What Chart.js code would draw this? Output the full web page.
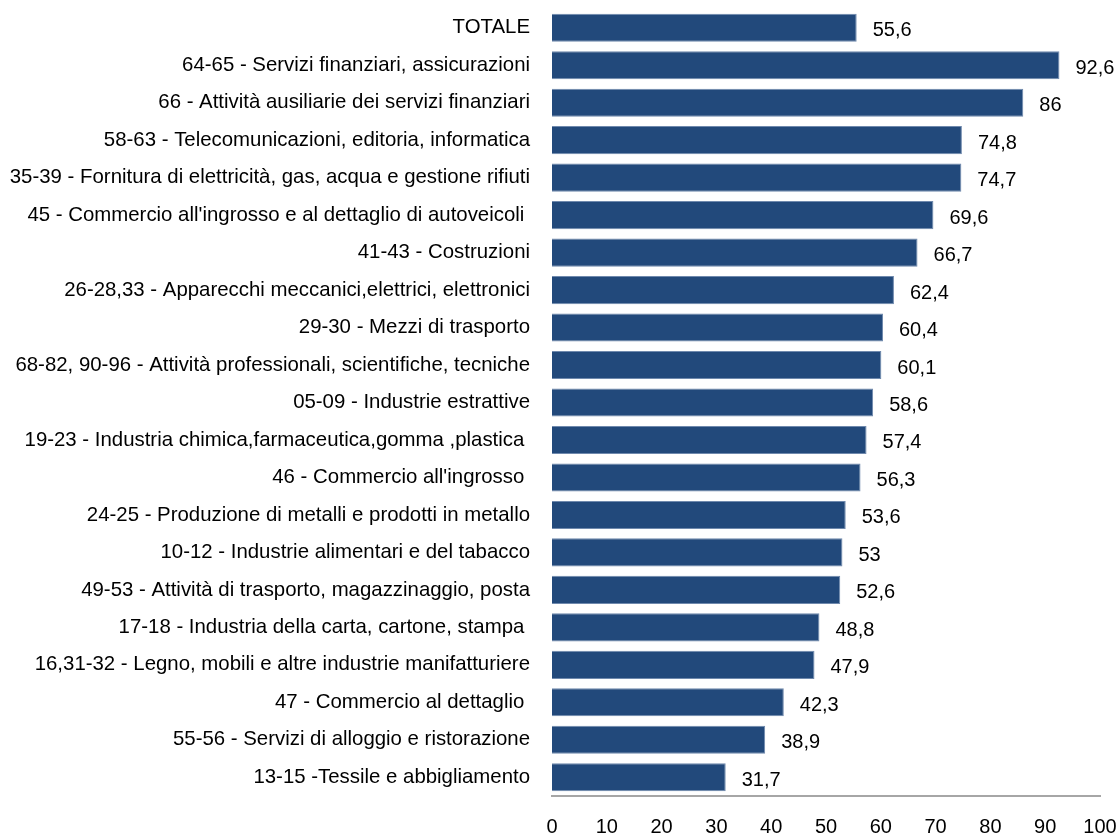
<!DOCTYPE html>
<html>
<head>
<meta charset="utf-8">
<script src="https://cdn.jsdelivr.net/npm/chart.js@4"></script>
<style>
  html, body { margin: 0; padding: 0; background: #ffffff; }
  #wrap { width: 1118px; height: 835px; position: relative; }
</style>
</head>
<body>
<div id="wrap"><canvas id="chart"></canvas></div>
<script>
// Sector categories (top to bottom) and their values
const categories = [
  "TOTALE",
  "64-65 - Servizi finanziari, assicurazioni",
  "66 - Attività ausiliarie dei servizi finanziari",
  "58-63 - Telecomunicazioni, editoria, informatica",
  "35-39 - Fornitura di elettricità, gas, acqua e gestione rifiuti",
  "45 - Commercio all'ingrosso e al dettaglio di autoveicoli ",
  "41-43 - Costruzioni",
  "26-28,33 - Apparecchi meccanici,elettrici, elettronici",
  "29-30 - Mezzi di trasporto",
  "68-82, 90-96 - Attività professionali, scientifiche, tecniche",
  "05-09 - Industrie estrattive",
  "19-23 - Industria chimica,farmaceutica,gomma ,plastica ",
  "46 - Commercio all'ingrosso ",
  "24-25 - Produzione di metalli e prodotti in metallo",
  "10-12 - Industrie alimentari e del tabacco",
  "49-53 - Attività di trasporto, magazzinaggio, posta",
  "17-18 - Industria della carta, cartone, stampa ",
  "16,31-32 - Legno, mobili e altre industrie manifatturiere",
  "47 - Commercio al dettaglio ",
  "55-56 - Servizi di alloggio e ristorazione",
  "13-15 -Tessile e abbigliamento"
];

const values = [
  55.6, 92.6, 86, 74.8, 74.7, 69.6, 66.7, 62.4, 60.4, 60.1, 58.6,
  57.4, 56.3, 53.6, 53, 52.6, 48.8, 47.9, 42.3, 38.9, 31.7
];

const xTicks = [0, 10, 20, 30, 40, 50, 60, 70, 80, 90, 100];

const FONT = "'Liberation Sans', Arial, sans-serif";

// Writes each value (decimal comma) just past the end of its bar
const valueLabels = {
  id: 'valueLabels',
  afterDatasetsDraw(chart) {
    const ctx = chart.ctx;
    const meta = chart.getDatasetMeta(0);
    ctx.save();
    ctx.font = "20px " + FONT;
    ctx.fillStyle = "#000000";
    ctx.textAlign = "left";
    ctx.textBaseline = "middle";
    meta.data.forEach((bar, i) => {
      const txt = String(values[i]).replace('.', ',');
      ctx.fillText(txt, bar.x + 16, bar.y + 3);
    });
    ctx.restore();
  }
};

new Chart(document.getElementById('chart'), {
  type: 'bar',
  data: {
    labels: categories,
    datasets: [{
      data: values,
      backgroundColor: '#22497b',
      borderColor: '#6f89ad',
      borderWidth: 1,
      barPercentage: 0.75,
      categoryPercentage: 1.0
    }]
  },
  options: {
    indexAxis: 'y',
    responsive: true,
    maintainAspectRatio: false,
    animation: false,
    layout: { padding: { top: 9, right: 18, bottom: 0, left: 0 } },
    plugins: {
      legend: { display: false },
      tooltip: { enabled: false }
    },
    scales: {
      x: {
        min: 0,
        max: 100,
        afterBuildTicks(scale) {
          scale.ticks = xTicks.map(v => ({ value: v }));
        },
        afterFit(scale) {
          scale.height = 39;
          scale.paddingLeft = 0;
          scale.paddingRight = 0;
        },
        grid: { display: false, drawTicks: false },
        border: { display: true, color: '#a6a6a6', width: 2 },
        ticks: {
          color: '#000000',
          font: { family: FONT, size: 20 },
          padding: 19,
          maxRotation: 0
        }
      },
      y: {
        afterFit(scale) {
          scale.width = 552;
          scale.paddingTop = 0;
          scale.paddingBottom = 0;
        },
        grid: { display: false, drawTicks: false },
        border: { display: false },
        ticks: {
          color: '#000000',
          font: { family: FONT, size: 20.4 },
          padding: 22,
          autoSkip: false
        }
      }
    }
  },
  plugins: [valueLabels]
});
</script>
</body>
</html>
